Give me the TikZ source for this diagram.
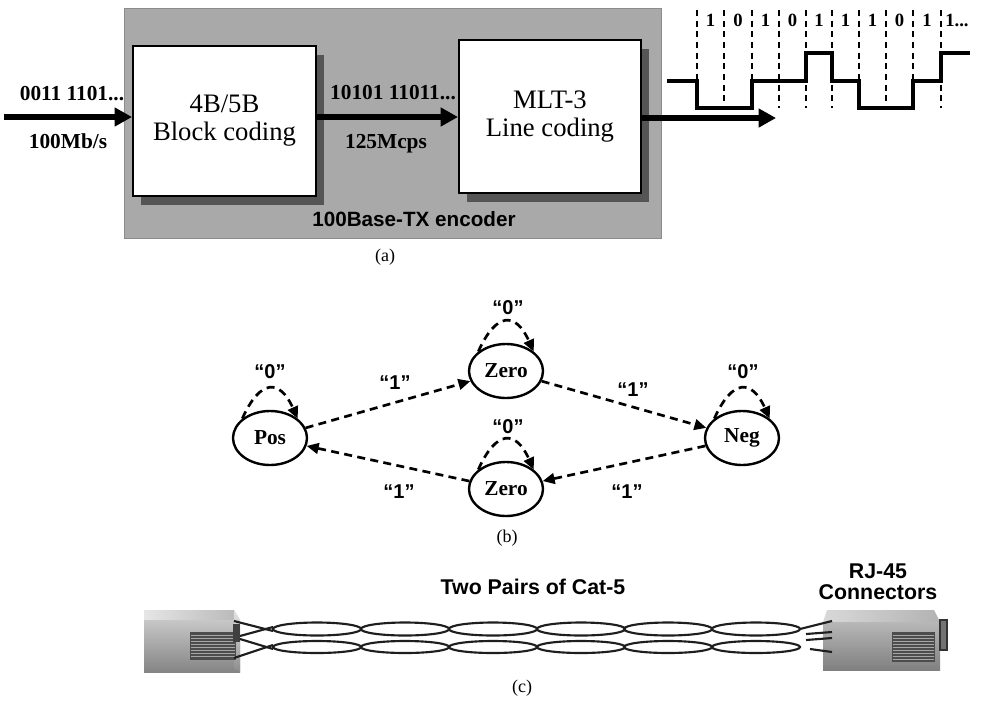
\documentclass[tikz,border=0pt]{standalone}
\usepackage{fontspec}
\setmainfont{Liberation Serif}
\newfontfamily\headsans{Liberation Sans}
\usetikzlibrary{arrows.meta,shapes.geometric,shadows}

\definecolor{encgray}{HTML}{A9A9A9}
\definecolor{shadowgray}{HTML}{555555}
\definecolor{wire}{HTML}{1E1E1E}

\tikzset{
  encbox/.style={fill=encgray, draw=black!45, line width=0.6pt, minimum width=402.75pt, minimum height=172.5pt, inner sep=0pt},
  blockbox/.style={draw=black, line width=1.5pt, fill=white, inner sep=0pt, align=center,
    font=\fontsize{20pt}{21pt}\selectfont,
    drop shadow={shadow xshift=6pt, shadow yshift=-6.75pt, fill=shadowgray, opacity=1}},
  bigarrow/.style={line width=4.2pt, -{Triangle[length=13pt,width=13.5pt]}},
  ratelbl/.style={font=\fontsize{16pt}{16pt}\selectfont\bfseries, inner sep=0pt},
  sanslbl/.style={font=\fontsize{15.5pt}{16pt}\selectfont\headsans\bfseries, inner sep=0pt},
  caplbl/.style={font=\fontsize{13.5pt}{14pt}\selectfont, inner sep=0pt},
  tickline/.style={line width=1.4pt, dash pattern=on 4.5pt off 3.5pt},
  waveline/.style={line width=3.2pt, line join=miter},
  bitlbl/.style={font=\fontsize{14pt}{14pt}\selectfont\bfseries, inner sep=0pt},
  state/.style={ellipse, draw=black, line width=1.8pt, minimum width=55.5pt, minimum height=40.5pt,
    inner sep=0pt, font=\fontsize{16pt}{16pt}\selectfont\bfseries},
  transline/.style={line width=2pt, dash pattern=on 6pt off 4pt, -{Triangle[length=9pt,width=8pt]}},
  quotelbl/.style={font=\fontsize{15pt}{15pt}\selectfont\headsans\bfseries, inner sep=0pt},
  pairwire/.style={draw=wire, line width=1.6pt},
  cablelbl/.style={font=\fontsize{16pt}{16.5pt}\selectfont\headsans\bfseries, inner sep=0pt, align=center}
}

\begin{document}
\begin{tikzpicture}[x=0.75pt,y=-0.75pt]
\useasboundingbox (0,0) rectangle (989,701);

% ---------- (a) 100Base-TX encoder ----------
\node[encbox] (enc) at (392.5,123) {};
\node[blockbox, minimum width=137.25pt, minimum height=112.5pt] (b1) at (224.5,121) {4B/5B\\Block coding};
\node[blockbox, minimum width=136.5pt, minimum height=114.75pt] (b2) at (550,116.5) {MLT-3\\Line coding};
\node[sanslbl] (enclbl) at (414,219) {100Base-TX encoder};

\coordinate (inL) at (4,117);
\coordinate (outR) at (776,118);
\draw[bigarrow] (inL) -- (b1.west |- inL);
\draw[bigarrow] (b1.east |- inL) -- (b2.west |- inL);
\draw[bigarrow] (b2.east |- outR) -- (outR);

\node[ratelbl] (inbits) at (72,94) {0011 1101...};
\node[ratelbl] (inrate) at (68,141) {100Mb/s};
\node[ratelbl] (midbits) at (393,93) {10101 11011...};
\node[ratelbl] (midrate) at (386,144) {125Mcps};
\node[caplbl] (capa) at (385,257) {(a)};

% MLT-3 waveform with bit boundaries
\foreach \x in {697,724,752,779,806,832,859,886,913,941}
  \draw[tickline] (\x,10) -- (\x,108);
\foreach \b/\x [count=\i] in {1/710.5,0/738,1/765.5,0/792.5,1/819,1/845.5,1/872.5,0/899.5,1/927}
  \node[bitlbl] (bit\i) at (\x,20) {\b};
\node[bitlbl, anchor=west] (bitlast) at (945,20) {1...};
\draw[waveline] (667,81) -- (697,81) -- (697,108) -- (752,108) -- (752,81) -- (806,81)
  -- (806,53) -- (832,53) -- (832,81) -- (859,81) -- (859,108) -- (913,108) -- (913,81)
  -- (941,81) -- (941,53) -- (970,53);

% ---------- (b) MLT-3 state machine ----------
\node[state] (pos) at (270,438) {Pos};
\node[state] (zt) at (506,371) {Zero};
\node[state] (neg) at (742,438) {Neg};
\node[state] (zb) at (506,489) {Zero};

\foreach \s in {pos,zt,neg,zb}
  \draw[transline] (\s.145) .. controls +(18,-40) and +(-18,-40) .. (\s.35);
\node[quotelbl] (q0p) at (270,372) {“0”};
\node[quotelbl] (q0t) at (508,308) {“0”};
\node[quotelbl] (q0n) at (743,372) {“0”};
\node[quotelbl] (q0b) at (508,427) {“0”};

\draw[transline] (pos) -- (zt);
\draw[transline] (zt) -- (neg);
\draw[transline] (neg) -- (zb);
\draw[transline] (zb) -- (pos);
\node[quotelbl] (q1a) at (395,383) {“1”};
\node[quotelbl] (q1b) at (633,390) {“1”};
\node[quotelbl] (q1c) at (627,492) {“1”};
\node[quotelbl] (q1d) at (399,492) {“1”};
\node[caplbl] (capb) at (507,538) {(b)};

% ---------- (c) Cat-5 cable with RJ-45 plugs ----------
\node[cablelbl] (cat5) at (533,587) {Two Pairs of Cat-5};
\node[cablelbl] (rj45) at (878,582) {RJ-45\\[-1pt]Connectors};
\node[caplbl] (capc) at (522,688) {(c)};

% left plug
\shade[left color=black!10, right color=black!28] (144,610) -- (234,610) -- (240,620) -- (144,620) -- cycle;
\shade[top color=black!22, bottom color=black!48] (144,620) rectangle (240,672);
\shade[top color=black!10, bottom color=black!45] (234,610) -- (240,620) -- (240,672) -- (234,668) -- cycle;
\fill[black!70] (190,632) rectangle (236,660);
\foreach \y in {635,638,...,657}
  \draw[black!35, line width=0.7pt] (191,\y) -- (235,\y);
\fill[black!75] (233,624) rectangle (240,642);

% right plug
\shade[left color=black!15, right color=black!30] (827,610) -- (934,610) -- (940,622) -- (823,622) -- cycle;
\shade[top color=black!28, bottom color=black!50] (823,622) rectangle (940,670);
\fill[black!70] (892,632) rectangle (935,662);
\foreach \y in {635,638,...,659}
  \draw[black!35, line width=0.7pt] (893,\y) -- (934,\y);
\fill[black!55] (940,620) rectangle (947,650);
\draw[black!80, line width=0.8pt] (940,620) rectangle (947,650);

% twisted pairs
\foreach \cx in {317,405,493,581,668,756} {
  \draw[pairwire] (\cx,629) ellipse [x radius=44, y radius=6.5];
  \draw[pairwire] (\cx,647) ellipse [x radius=44, y radius=6];
}
\draw[pairwire] (234,621) -- (273,631);
\draw[pairwire] (240,636) -- (273,627);
\draw[pairwire] (240,639) -- (273,649);
\draw[pairwire] (234,658) -- (273,645);
\draw[pairwire] (800,629) -- (832,621);
\draw[pairwire] (806,634) -- (832,632);
\draw[pairwire] (806,640) -- (832,638);
\draw[pairwire] (810,649) -- (832,652);
\end{tikzpicture}
\end{document}
